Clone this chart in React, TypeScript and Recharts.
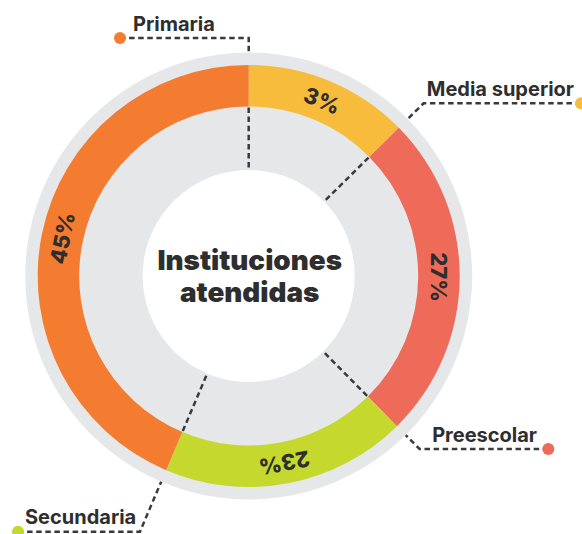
import React from 'react';
import { PieChart, Pie, Cell } from 'recharts';

// Categories clockwise from 12 o'clock
const categories = ['Media superior', 'Preescolar', 'Secundaria', 'Primaria'];
// Visual share of the ring each arc occupies (%)
const arcShares = [12.6, 25.0, 18.8, 43.6];
// Printed percentage labels
const percentLabels = ['3%', '27%', '23%', '45%'];
const colors = ['#F8BC3C', '#EE6A59', '#C4D82E', '#F47C30'];
const centerTitle = ['Instituciones', 'atendidas'];

const W = 582;
const H = 534;
const CX = 248.7;
const CY = 276;
const R_WHITE = 106;
const R_IN = 169.5;
const R_OUT = 211;
const R_GRAY = 223.5;

const TEXT = '#2E2E2E';
const LINE = '#3A3A3A';
const FONT = 'Inter, "Open Sans", sans-serif';

// annotation layout per category (same order as categories)
const leaderLayout = [
  { elbowY: 103.3, dotX: 581, textX: 574, anchor: 'end' },
  { elbowY: 449, dotX: 548.3, textX: 537, anchor: 'end' },
  { elbowY: 531.7, dotX: 18, textX: 25, anchor: 'start' },
  { elbowY: 38, dotX: 120, textX: 133, anchor: 'start' },
];

const data = categories.map((name, i) => ({ name, value: arcShares[i], label: percentLabels[i] }));
const total = arcShares.reduce((a, b) => a + b, 0);

const RAD = Math.PI / 180;

const renderPercent = (props: any) => {
  const { cx, cy, midAngle, innerRadius, outerRadius, index } = props;
  const r = (innerRadius + outerRadius) / 2;
  const x = cx + r * Math.cos(-midAngle * RAD);
  const y = cy + r * Math.sin(-midAngle * RAD);
  const rot = 90 - midAngle;
  return (
    <text
      key={`pl-${index}`}
      x={x}
      y={y}
      textAnchor="middle"
      dominantBaseline="central"
      transform={`rotate(${rot}, ${x}, ${y})`}
      fill={TEXT}
      fontFamily={FONT}
      fontWeight={800}
      fontSize={22}
    >
      {percentLabels[index]}
    </text>
  );
};

function leaderGroup(cx: number, cy: number) {
  let cum = 0;
  return (
    <g key="leaders">
      {categories.map((name, i) => {
        cum += arcShares[i];
        const theta = (cum / total) * 360 * RAD; // clockwise from top
        const s = Math.sin(theta);
        const c = -Math.cos(theta);
        const L = leaderLayout[i];
        const t = (L.elbowY - cy) / c;
        const ex = cx + t * s;
        const ey = L.elbowY;
        const gx = cx + R_GRAY * s;
        const gy = cy + R_GRAY * c;
        const ix1 = cx + (R_IN - 1) * s;
        const iy1 = cy + (R_IN - 1) * c;
        const ix2 = cx + (R_WHITE + 1) * s;
        const iy2 = cy + (R_WHITE + 1) * c;
        return (
          <g key={name}>
            <path
              d={`M${L.dotX},${ey} L${ex},${ey} L${gx},${gy}`}
              fill="none"
              stroke={LINE}
              strokeWidth={2.5}
              strokeDasharray="5.5 3.6"
            />
            <path
              d={`M${ix1},${iy1} L${ix2},${iy2}`}
              fill="none"
              stroke={LINE}
              strokeWidth={2.5}
              strokeDasharray="5.5 3.6"
            />
            <circle cx={L.dotX} cy={ey} r={6} fill={colors[i]} />
            <text
              x={L.textX}
              y={ey - 7.5}
              textAnchor={L.anchor as any}
              fill={TEXT}
              fontFamily={FONT}
              fontWeight={700}
              fontSize={20}
            >
              {name}
            </text>
          </g>
        );
      })}
      <text
        x={cx + 1}
        y={270}
        textAnchor="middle"
        fill={TEXT}
        fontFamily={FONT}
        fontWeight={900}
        fontSize={27.8}
      >
        {centerTitle[0]}
      </text>
      <text
        x={cx + 1}
        y={301.7}
        textAnchor="middle"
        fill={TEXT}
        fontFamily={FONT}
        fontWeight={900}
        fontSize={27.8}
      >
        {centerTitle[1]}
      </text>
    </g>
  );
}

const renderLeaders = (props: any) => {
  if (props.index !== 0) return null;
  return leaderGroup(props.cx, props.cy);
};

export default function App() {
  return (
    <div style={{ position: 'absolute', left: 0, top: 0, width: W, height: H, background: '#fff' }}>
      <PieChart width={W} height={H} margin={{ top: 0, right: 0, bottom: 0, left: 0 }}>
        <Pie
          data={[{ name: 'bg', value: 1 }]}
          dataKey="value"
          cx={CX}
          cy={CY}
          innerRadius={R_WHITE}
          outerRadius={R_GRAY}
          startAngle={90}
          endAngle={-270}
          fill="#E6E7E8"
          stroke="none"
          label={renderLeaders}
          labelLine={false}
          isAnimationActive={false}
        />
        <Pie
          data={data}
          dataKey="value"
          cx={CX}
          cy={CY}
          innerRadius={R_IN}
          outerRadius={R_OUT}
          startAngle={90}
          endAngle={-270}
          stroke="none"
          label={renderPercent}
          labelLine={false}
          isAnimationActive={false}
        >
          {data.map((d, i) => (
            <Cell key={d.name} fill={colors[i]} />
          ))}
        </Pie>
      </PieChart>
    </div>
  );
}
